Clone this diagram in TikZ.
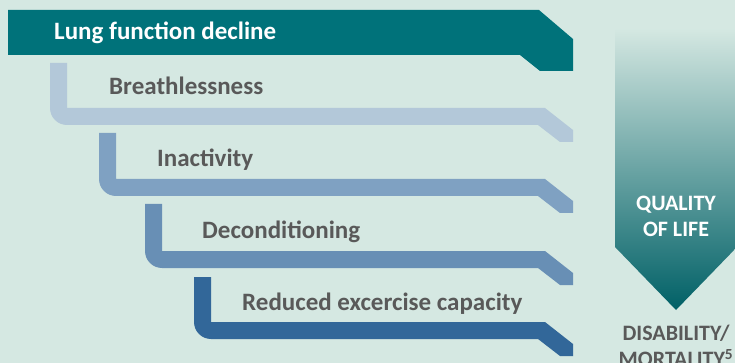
\documentclass[tikz,border=0pt]{standalone}
\usepackage{fontspec}
\setmainfont{Carlito}
\definecolor{bgmint}{RGB}{213,232,226}
\definecolor{lungteal}{RGB}{0,114,122}
\definecolor{breathblue}{RGB}{179,200,217}
\definecolor{inactblue}{RGB}{127,161,194}
\definecolor{decondblue}{RGB}{104,143,181}
\definecolor{capblue}{RGB}{50,103,153}
\definecolor{lblgray}{RGB}{89,89,89}
\definecolor{qolmid}{RGB}{70,145,146}
\definecolor{qoldark}{RGB}{0,96,102}
\begin{document}
\begin{tikzpicture}[x=1pt, y=-1pt, lbl/.style={anchor=base west, inner sep=0, font=\fontsize{25}{28}\selectfont\bfseries, text=lblgray}, qol/.style={align=center, inner sep=0, font=\fontsize{22}{26}\selectfont\bfseries}]
\fill[bgmint] (0,0) rectangle (735,363);
\useasboundingbox (0,0) rectangle (735,363);

\fill[lungteal] (8,10) -- (539,10) -- (573,39) -- (573,71) -- (540,71) -- (520,55) -- (8,55) -- cycle;
\node[lbl, text=white] (lung) at (54,40) {Lung function decline};

\fill[breathblue] (50,63) -- (67,63) -- (67,108) -- (545,108) -- (573,130) -- (573,142) -- (560,142) -- (538,125) -- (67,125) arc[start angle=90, end angle=180, radius=17] -- cycle;
\node[lbl] (breath) at (109,95) {Breathlessness};

\fill[inactblue] (99,133) -- (116,133) -- (116,179) -- (545,179) -- (573,201) -- (573,213) -- (560,213) -- (538,196) -- (116,196) arc[start angle=90, end angle=180, radius=17] -- cycle;
\node[lbl] (inact) at (157,167) {Inactivity};

\fill[decondblue] (145,204) -- (162,204) -- (162,251) -- (545,251) -- (573,273) -- (573,285) -- (560,285) -- (538,268) -- (162,268) arc[start angle=90, end angle=180, radius=17] -- cycle;
\node[lbl] (decond) at (202,238) {Deconditioning};

\fill[capblue] (194,277) -- (211,277) -- (211,322) -- (545,322) -- (573,344) -- (573,356) -- (560,356) -- (538,339) -- (211,339) arc[start angle=90, end angle=180, radius=17] -- cycle;
\node[lbl] (capacity) at (242,310) {Reduced excercise capacity};

\shade[top color=bgmint, middle color=qolmid, bottom color=qoldark] (615,28) -- (737,28) -- (737,247) -- (676,310) -- (615,247) -- cycle;
\node[qol, text=white] (qol) at (676,216) {QUALITY\\OF LIFE};
\node[qol, text=lblgray] (death) at (676,346) {DISABILITY/\\MORTALITY\textsuperscript{5}};
\end{tikzpicture}
\end{document}
